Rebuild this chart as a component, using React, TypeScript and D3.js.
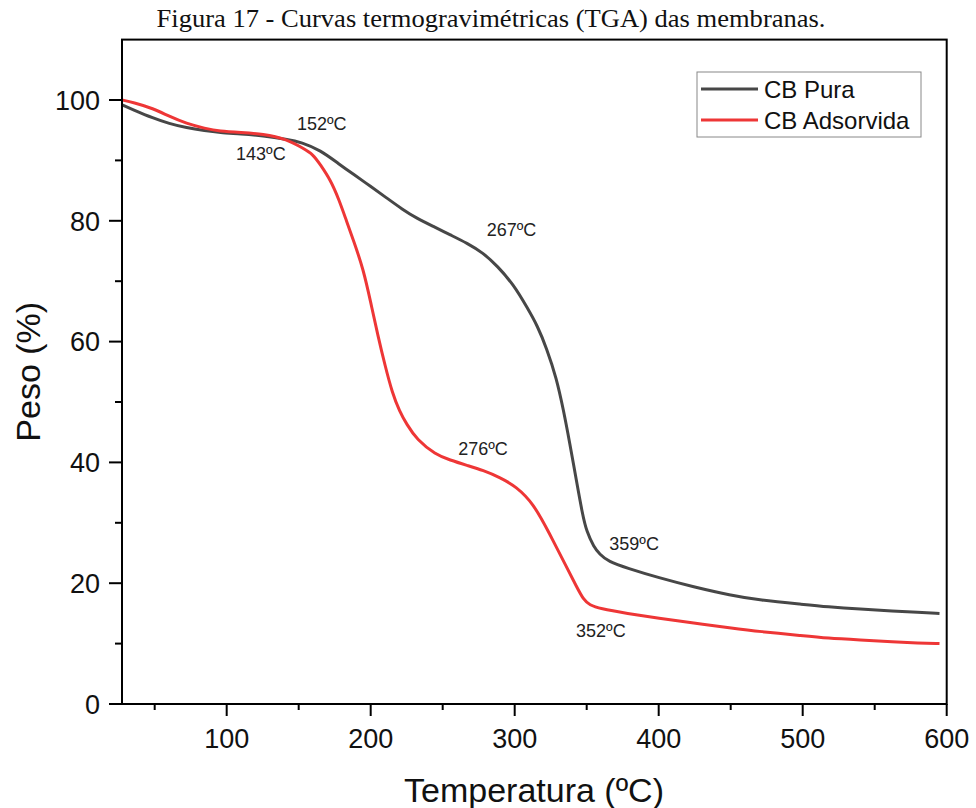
import React from 'react';
import * as d3 from 'd3';

const tempPura = [27.3, 35, 49, 60, 72, 85, 95, 110, 125, 142, 152, 165, 178, 188, 200, 211, 222, 232, 245, 255, 267, 278, 288, 299, 309, 316, 322, 329, 334, 338, 343, 347, 350, 355, 359, 365, 378, 400, 424, 450, 470, 500, 517, 540, 563, 580, 595];
const pesoPura = [99.2, 98.4, 97.0, 96.1, 95.4, 94.9, 94.6, 94.4, 94.1, 93.5, 93.0, 91.7, 89.4, 87.7, 85.7, 83.8, 81.9, 80.4, 78.9, 77.7, 76.3, 74.7, 72.5, 69.5, 65.5, 62.5, 59.0, 54.0, 48.5, 43.5, 36.8, 31.5, 28.5, 26.0, 24.8, 23.6, 22.5, 20.9, 19.4, 18.0, 17.2, 16.5, 16.1, 15.7, 15.4, 15.2, 15.0];

const tempAds = [27.3, 35, 49, 60, 72, 85, 95, 110, 125, 142, 153, 160, 165, 172, 178, 183, 188, 195, 200, 205, 210, 215, 220, 225, 232, 245, 255, 267, 278, 290, 301, 313, 324, 336, 343, 348, 352, 359, 378, 400, 424, 450, 470, 500, 517, 540, 563, 580, 595];
const pesoAds = [100, 99.6, 98.6, 97.3, 96.1, 95.3, 94.8, 94.6, 94.4, 93.5, 92.0, 91.0, 89.3, 86.8, 83.5, 80.1, 76.8, 71.9, 66.5, 61.0, 56.0, 51.5, 48.5, 46.3, 43.8, 41.3, 40.4, 39.5, 38.7, 37.5, 36.0, 33.2, 28.3, 22.7, 19.4, 17.2, 16.4, 15.8, 15.0, 14.2, 13.4, 12.6, 12.0, 11.3, 10.9, 10.6, 10.3, 10.1, 10.0];

const xTicks = [100, 200, 300, 400, 500, 600];
const xMinorTicks = [50, 150, 250, 350, 450, 550];
const yTicks = [0, 20, 40, 60, 80, 100];
const yMinorTicks = [10, 30, 50, 70, 90];

const annotationLabels = ['152ºC', '143ºC', '267ºC', '276ºC', '359ºC', '352ºC'];
const annotationTemps = [148.8, 106.5, 280.6, 260.8, 365.7, 342.6];
const annotationPesos = [95.0, 90.0, 77.5, 41.2, 25.5, 11.1];

const seriesNames = ['CB Pura', 'CB Adsorvida'];
const seriesColors = ['#474747', '#ee3636'];

const title = 'Figura 17 - Curvas termogravimétricas (TGA) das membranas.';
const xTitle = 'Temperatura (ºC)';
const yTitle = 'Peso (%)';

const SANS = '"Liberation Sans", Arial, sans-serif';
const SERIF = '"Liberation Serif", "Times New Roman", serif';

export default function App() {
  const left = 122, right = 946.7, top = 39.6, bottom = 704;
  const x = d3.scaleLinear().domain([27.3, 600]).range([left, right]);
  const y = d3.scaleLinear().domain([0, 110]).range([bottom, top]);

  const line = d3.line<[number, number]>()
    .x(d => x(d[0]))
    .y(d => y(d[1]))
    .curve(d3.curveBasis);

  const puraPts: [number, number][] = tempPura.map((t, i) => [t, pesoPura[i]]);
  const adsPts: [number, number][] = tempAds.map((t, i) => [t, pesoAds[i]]);

  return (
    <svg width={976} height={808} style={{ position: 'absolute', left: 0, top: 0, background: '#fff' }}>
      <rect x={0} y={0} width={976} height={808} fill="#fff" />
      <text x={491} y={27} textAnchor="middle" fontFamily={SERIF} fontSize={26}
        textLength={669} lengthAdjust="spacingAndGlyphs" fill="#111">{title}</text>

      {/* curves */}
      <path d={line(puraPts) || ''} fill="none" stroke={seriesColors[0]} strokeWidth={3} strokeLinejoin="round" />
      <path d={line(adsPts) || ''} fill="none" stroke={seriesColors[1]} strokeWidth={3} strokeLinejoin="round" />

      {/* frame */}
      <rect x={left} y={top} width={right - left} height={bottom - top} fill="none" stroke="#000" strokeWidth={2} />

      {/* x ticks */}
      {xTicks.map(t => (
        <g key={'xt' + t}>
          <line x1={x(t)} x2={x(t)} y1={bottom} y2={bottom + 12} stroke="#000" strokeWidth={2} />
          <text x={x(t)} y={748} textAnchor="middle" fontFamily={SANS} fontSize={27} fill="#111">{t}</text>
        </g>
      ))}
      {xMinorTicks.map(t => (
        <line key={'xm' + t} x1={x(t)} x2={x(t)} y1={bottom} y2={bottom + 6} stroke="#000" strokeWidth={2} />
      ))}

      {/* y ticks */}
      {yTicks.map(t => (
        <g key={'yt' + t}>
          <line x1={left - 13} x2={left} y1={y(t)} y2={y(t)} stroke="#000" strokeWidth={2} />
          <text x={100} y={y(t)} dy="0.36em" textAnchor="end" fontFamily={SANS} fontSize={27} fill="#111">{t}</text>
        </g>
      ))}
      {yMinorTicks.map(t => (
        <line key={'ym' + t} x1={left - 7} x2={left} y1={y(t)} y2={y(t)} stroke="#000" strokeWidth={2} />
      ))}

      {/* axis titles */}
      <text x={534} y={802} textAnchor="middle" fontFamily={SANS} fontSize={34} fill="#111">{xTitle}</text>
      <text transform={`translate(40, ${(top + bottom) / 2 + 0}) rotate(-90)`} textAnchor="middle" fontFamily={SANS} fontSize={34} fill="#111">{yTitle}</text>

      {/* annotations */}
      {annotationLabels.map((lab, i) => (
        <text key={lab} x={x(annotationTemps[i])} y={y(annotationPesos[i])} fontFamily={SANS} fontSize={18} fill="#222">{lab}</text>
      ))}

      {/* legend */}
      <rect x={697} y={72} width={224} height={65} fill="#fff" stroke="#888" strokeWidth={1} />
      {seriesNames.map((n, i) => (
        <g key={n}>
          <line x1={701} x2={758} y1={89 + i * 31} y2={89 + i * 31} stroke={seriesColors[i]} strokeWidth={3} />
          <text x={764} y={97.5 + i * 31} fontFamily={SANS} fontSize={24} fill="#111">{n}</text>
        </g>
      ))}
    </svg>
  );
}
